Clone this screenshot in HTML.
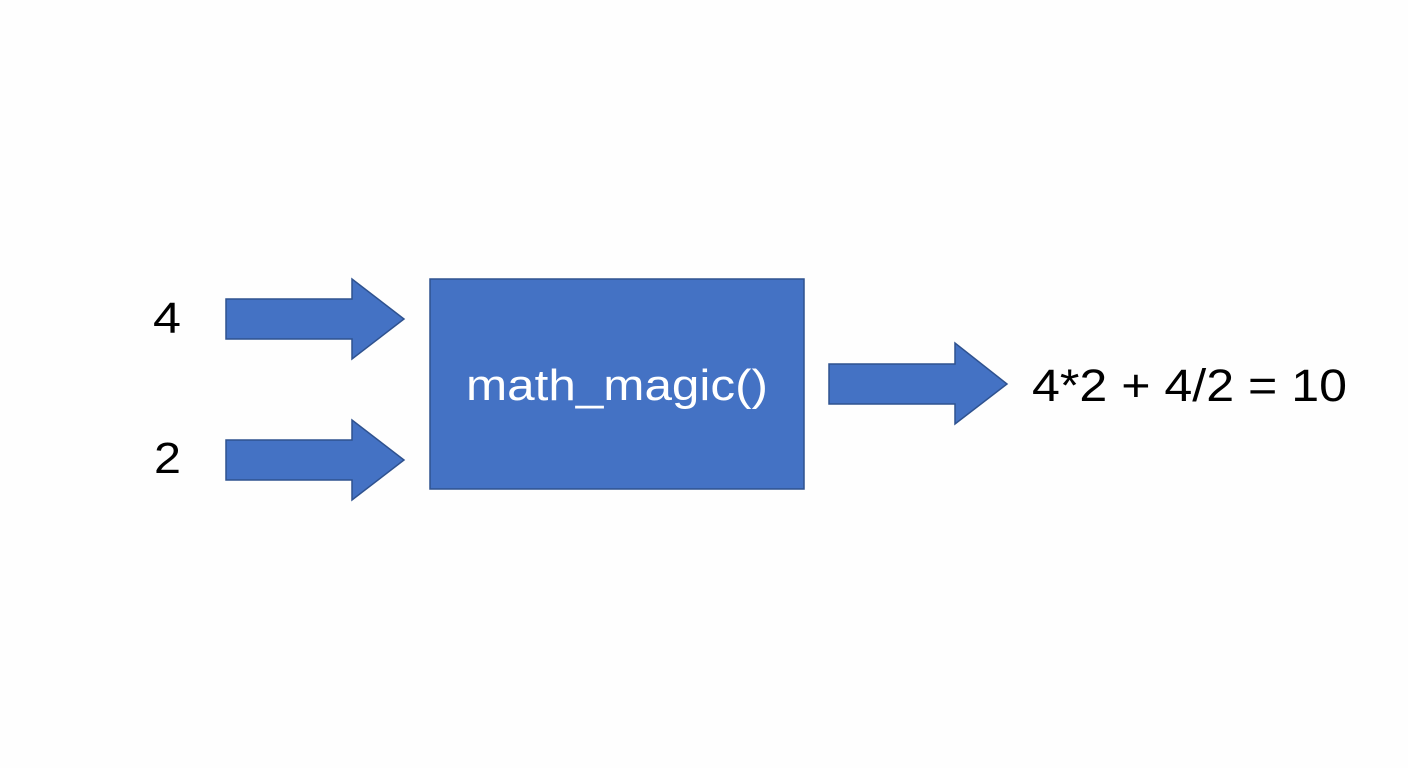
<!DOCTYPE html>
<html><head><meta charset="utf-8"><style>
html,body{margin:0;padding:0;background:#fff;}
svg{display:block;}
text{font-family:"Liberation Sans",sans-serif;}
</style></head><body>
<svg width="1408" height="768" viewBox="0 0 1408 768" xmlns="http://www.w3.org/2000/svg">
<rect width="1408" height="768" fill="#fefefe"/>
<g fill="#4472c4" stroke="#2f528f" stroke-width="1.5">
<polygon points="226,299 352,299 352,279 404,319 352,359 352,339 226,339"/>
<polygon points="226,440 352,440 352,420 404,460 352,500 352,480 226,480"/>
<rect x="430" y="279" width="374" height="210"/>
<polygon points="829,364 955,364 955,343 1007,384 955,424 955,404 829,404"/>
</g>
<text x="153" y="333" font-size="44" fill="#000" textLength="28" lengthAdjust="spacingAndGlyphs">4</text>
<text x="154" y="473" font-size="44" fill="#000" textLength="27" lengthAdjust="spacingAndGlyphs">2</text>
<text x="466" y="400" font-size="44" fill="#fff" textLength="302" lengthAdjust="spacingAndGlyphs">math_magic()</text>
<text x="1032" y="401" font-size="45" fill="#000" textLength="315" lengthAdjust="spacingAndGlyphs">4*2 + 4/2 = 10</text>
</svg>
</body></html>
